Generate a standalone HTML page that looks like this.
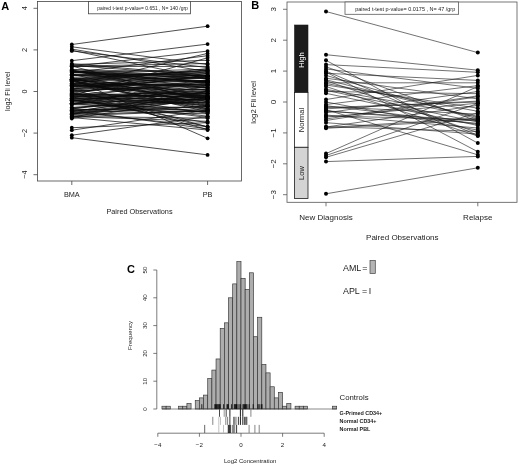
<!DOCTYPE html>
<html><head><meta charset="utf-8"><title>Figure</title>
<style>html,body{margin:0;padding:0;background:#fff;}body{width:520px;height:466px;overflow:hidden;font-family:"Liberation Sans",sans-serif;}</style></head>
<body>
<svg width="520" height="466" viewBox="0 0 520 466" style="display:block;font-family:'Liberation Sans',sans-serif;filter:blur(0.35px)">
<rect width="520" height="466" fill="#fff"/>
<g stroke="#0a0a0a" stroke-width="0.72" fill="none">
<path d="M71.8 44.5L207.6 26.2"/>
<path d="M71.8 46.8L207.6 64.5"/>
<path d="M71.8 49.1L207.6 71.7"/>
<path d="M71.8 50.9L207.6 67.6"/>
<path d="M71.8 50.3L207.6 79.0"/>
<path d="M71.8 60.7L207.6 44.1"/>
<path d="M71.8 137.7L207.6 154.9"/>
<path d="M71.8 135.2L207.6 116.5"/>
<path d="M71.8 130.2L207.6 110.2"/>
<path d="M71.8 127.7L207.6 122.7"/>
<path d="M71.8 79.0L207.6 138.3"/>
<path d="M71.8 66.5L207.6 51.1"/>
<path d="M71.8 85.3L207.6 53.4"/>
<path d="M71.8 72.8L207.6 55.7"/>
<path d="M71.8 95.7L207.6 57.8"/>
<path d="M71.8 64.5L207.6 60.3"/>
<path d="M71.8 117.5L207.6 130.0"/>
<path d="M71.8 110.2L207.6 128.9"/>
<path d="M71.8 89.4L207.6 126.9"/>
<path d="M71.8 118.5L207.6 97.7"/>
<path d="M71.8 96.6L207.6 90.5"/>
<path d="M71.8 96.0L207.6 100.8"/>
<path d="M71.8 109.9L207.6 109.2"/>
<path d="M71.8 69.5L207.6 72.7"/>
<path d="M71.8 71.0L207.6 76.0"/>
<path d="M71.8 83.7L207.6 85.7"/>
<path d="M71.8 74.6L207.6 75.2"/>
<path d="M71.8 81.6L207.6 108.5"/>
<path d="M71.8 109.1L207.6 111.9"/>
<path d="M71.8 85.5L207.6 89.9"/>
<path d="M71.8 81.2L207.6 94.7"/>
<path d="M71.8 85.4L207.6 84.2"/>
<path d="M71.8 104.6L207.6 80.6"/>
<path d="M71.8 80.5L207.6 70.4"/>
<path d="M71.8 103.8L207.6 111.7"/>
<path d="M71.8 98.3L207.6 99.7"/>
<path d="M71.8 79.0L207.6 81.6"/>
<path d="M71.8 100.3L207.6 112.1"/>
<path d="M71.8 101.8L207.6 85.0"/>
<path d="M71.8 107.5L207.6 101.6"/>
<path d="M71.8 83.1L207.6 106.9"/>
<path d="M71.8 90.5L207.6 76.1"/>
<path d="M71.8 97.9L207.6 99.4"/>
<path d="M71.8 107.6L207.6 98.5"/>
<path d="M71.8 92.7L207.6 113.3"/>
<path d="M71.8 75.1L207.6 73.5"/>
<path d="M71.8 72.8L207.6 75.8"/>
<path d="M71.8 89.1L207.6 108.7"/>
<path d="M71.8 79.3L207.6 93.0"/>
<path d="M71.8 100.4L207.6 116.2"/>
<path d="M71.8 110.6L207.6 113.8"/>
<path d="M71.8 66.0L207.6 102.0"/>
<path d="M71.8 86.8L207.6 71.7"/>
<path d="M71.8 80.1L207.6 110.1"/>
<path d="M71.8 84.4L207.6 98.1"/>
<path d="M71.8 113.6L207.6 96.5"/>
<path d="M71.8 69.7L207.6 76.3"/>
<path d="M71.8 86.6L207.6 84.6"/>
<path d="M71.8 79.3L207.6 78.3"/>
<path d="M71.8 80.7L207.6 106.2"/>
<path d="M71.8 66.2L207.6 63.5"/>
<path d="M71.8 81.0L207.6 111.7"/>
<path d="M71.8 104.0L207.6 91.5"/>
<path d="M71.8 95.1L207.6 83.0"/>
<path d="M71.8 117.4L207.6 91.0"/>
<path d="M71.8 80.6L207.6 87.9"/>
<path d="M71.8 85.1L207.6 80.7"/>
<path d="M71.8 89.1L207.6 77.1"/>
<path d="M71.8 104.6L207.6 108.1"/>
<path d="M71.8 70.9L207.6 78.8"/>
<path d="M71.8 108.9L207.6 93.6"/>
<path d="M71.8 100.3L207.6 117.5"/>
<path d="M71.8 94.2L207.6 97.4"/>
<path d="M71.8 97.4L207.6 79.6"/>
<path d="M71.8 111.8L207.6 91.5"/>
<path d="M71.8 116.6L207.6 121.3"/>
<path d="M71.8 79.0L207.6 70.3"/>
<path d="M71.8 74.5L207.6 77.2"/>
<path d="M71.8 88.7L207.6 89.6"/>
<path d="M71.8 80.1L207.6 87.9"/>
<path d="M71.8 86.0L207.6 82.4"/>
<path d="M71.8 91.5L207.6 83.7"/>
<path d="M71.8 80.3L207.6 81.6"/>
<path d="M71.8 99.9L207.6 104.3"/>
<path d="M71.8 91.8L207.6 81.8"/>
<path d="M71.8 98.2L207.6 93.3"/>
<path d="M71.8 113.7L207.6 106.0"/>
<path d="M71.8 83.6L207.6 85.0"/>
<path d="M71.8 100.0L207.6 91.1"/>
<path d="M71.8 85.9L207.6 96.4"/>
<path d="M71.8 84.5L207.6 95.8"/>
<path d="M71.8 93.5L207.6 97.9"/>
<path d="M71.8 92.7L207.6 129.6"/>
<path d="M71.8 101.1L207.6 87.3"/>
<path d="M71.8 114.6L207.6 110.6"/>
<path d="M71.8 72.7L207.6 69.3"/>
<path d="M71.8 98.5L207.6 102.9"/>
<path d="M71.8 79.2L207.6 70.9"/>
<path d="M71.8 70.0L207.6 97.2"/>
<path d="M71.8 78.0L207.6 103.4"/>
<path d="M71.8 88.0L207.6 75.7"/>
<path d="M71.8 94.5L207.6 93.2"/>
<path d="M71.8 75.7L207.6 80.7"/>
<path d="M71.8 93.2L207.6 75.0"/>
<path d="M71.8 70.8L207.6 82.9"/>
<path d="M71.8 114.2L207.6 97.6"/>
<path d="M71.8 96.8L207.6 95.5"/>
<path d="M71.8 77.6L207.6 81.0"/>
<path d="M71.8 78.9L207.6 104.4"/>
<path d="M71.8 79.3L207.6 97.5"/>
<path d="M71.8 111.8L207.6 126.7"/>
<path d="M71.8 66.5L207.6 66.4"/>
<path d="M71.8 110.0L207.6 106.5"/>
<path d="M71.8 114.0L207.6 99.5"/>
<path d="M71.8 109.1L207.6 85.8"/>
<path d="M71.8 72.0L207.6 82.2"/>
<path d="M71.8 63.7L207.6 75.4"/>
<path d="M71.8 103.4L207.6 96.8"/>
<path d="M71.8 83.4L207.6 68.6"/>
<path d="M71.8 111.7L207.6 93.0"/>
<path d="M71.8 95.1L207.6 105.7"/>
<path d="M71.8 71.4L207.6 78.0"/>
<path d="M71.8 89.0L207.6 73.5"/>
<path d="M71.8 96.7L207.6 126.8"/>
<path d="M71.8 99.2L207.6 122.8"/>
<path d="M71.8 75.3L207.6 78.2"/>
<path d="M71.8 103.6L207.6 102.2"/>
<path d="M71.8 75.0L207.6 81.0"/>
<path d="M71.8 65.3L207.6 76.0"/>
<path d="M71.8 70.9L207.6 87.9"/>
<path d="M71.8 74.1L207.6 105.6"/>
<path d="M71.8 112.9L207.6 94.8"/>
<path d="M71.8 115.8L207.6 110.8"/>
<path d="M71.8 95.3L207.6 96.6"/>
<path d="M71.8 103.2L207.6 98.7"/>
<path d="M71.8 90.6L207.6 86.1"/>
<path d="M71.8 71.7L207.6 82.3"/>
<path d="M71.8 116.4L207.6 118.2"/>
<path d="M71.8 70.3L207.6 100.0"/>
<path d="M71.8 103.3L207.6 88.9"/>
</g>
<g fill="#000">
<circle cx="71.8" cy="44.5" r="1.9"/><circle cx="207.6" cy="26.2" r="1.9"/>
<circle cx="71.8" cy="46.8" r="1.9"/><circle cx="207.6" cy="64.5" r="1.9"/>
<circle cx="71.8" cy="49.1" r="1.9"/><circle cx="207.6" cy="71.7" r="1.9"/>
<circle cx="71.8" cy="50.9" r="1.9"/><circle cx="207.6" cy="67.6" r="1.9"/>
<circle cx="71.8" cy="50.3" r="1.9"/><circle cx="207.6" cy="79.0" r="1.9"/>
<circle cx="71.8" cy="60.7" r="1.9"/><circle cx="207.6" cy="44.1" r="1.9"/>
<circle cx="71.8" cy="137.7" r="1.9"/><circle cx="207.6" cy="154.9" r="1.9"/>
<circle cx="71.8" cy="135.2" r="1.9"/><circle cx="207.6" cy="116.5" r="1.9"/>
<circle cx="71.8" cy="130.2" r="1.9"/><circle cx="207.6" cy="110.2" r="1.9"/>
<circle cx="71.8" cy="127.7" r="1.9"/><circle cx="207.6" cy="122.7" r="1.9"/>
<circle cx="71.8" cy="79.0" r="1.9"/><circle cx="207.6" cy="138.3" r="1.9"/>
<circle cx="71.8" cy="66.5" r="1.9"/><circle cx="207.6" cy="51.1" r="1.9"/>
<circle cx="71.8" cy="85.3" r="1.9"/><circle cx="207.6" cy="53.4" r="1.9"/>
<circle cx="71.8" cy="72.8" r="1.9"/><circle cx="207.6" cy="55.7" r="1.9"/>
<circle cx="71.8" cy="95.7" r="1.9"/><circle cx="207.6" cy="57.8" r="1.9"/>
<circle cx="71.8" cy="64.5" r="1.9"/><circle cx="207.6" cy="60.3" r="1.9"/>
<circle cx="71.8" cy="117.5" r="1.9"/><circle cx="207.6" cy="130.0" r="1.9"/>
<circle cx="71.8" cy="110.2" r="1.9"/><circle cx="207.6" cy="128.9" r="1.9"/>
<circle cx="71.8" cy="89.4" r="1.9"/><circle cx="207.6" cy="126.9" r="1.9"/>
<circle cx="71.8" cy="118.5" r="1.9"/><circle cx="207.6" cy="97.7" r="1.9"/>
<circle cx="71.8" cy="96.6" r="1.9"/><circle cx="207.6" cy="90.5" r="1.9"/>
<circle cx="71.8" cy="96.0" r="1.9"/><circle cx="207.6" cy="100.8" r="1.9"/>
<circle cx="71.8" cy="109.9" r="1.9"/><circle cx="207.6" cy="109.2" r="1.9"/>
<circle cx="71.8" cy="69.5" r="1.9"/><circle cx="207.6" cy="72.7" r="1.9"/>
<circle cx="71.8" cy="71.0" r="1.9"/><circle cx="207.6" cy="76.0" r="1.9"/>
<circle cx="71.8" cy="83.7" r="1.9"/><circle cx="207.6" cy="85.7" r="1.9"/>
<circle cx="71.8" cy="74.6" r="1.9"/><circle cx="207.6" cy="75.2" r="1.9"/>
<circle cx="71.8" cy="81.6" r="1.9"/><circle cx="207.6" cy="108.5" r="1.9"/>
<circle cx="71.8" cy="109.1" r="1.9"/><circle cx="207.6" cy="111.9" r="1.9"/>
<circle cx="71.8" cy="85.5" r="1.9"/><circle cx="207.6" cy="89.9" r="1.9"/>
<circle cx="71.8" cy="81.2" r="1.9"/><circle cx="207.6" cy="94.7" r="1.9"/>
<circle cx="71.8" cy="85.4" r="1.9"/><circle cx="207.6" cy="84.2" r="1.9"/>
<circle cx="71.8" cy="104.6" r="1.9"/><circle cx="207.6" cy="80.6" r="1.9"/>
<circle cx="71.8" cy="80.5" r="1.9"/><circle cx="207.6" cy="70.4" r="1.9"/>
<circle cx="71.8" cy="103.8" r="1.9"/><circle cx="207.6" cy="111.7" r="1.9"/>
<circle cx="71.8" cy="98.3" r="1.9"/><circle cx="207.6" cy="99.7" r="1.9"/>
<circle cx="71.8" cy="79.0" r="1.9"/><circle cx="207.6" cy="81.6" r="1.9"/>
<circle cx="71.8" cy="100.3" r="1.9"/><circle cx="207.6" cy="112.1" r="1.9"/>
<circle cx="71.8" cy="101.8" r="1.9"/><circle cx="207.6" cy="85.0" r="1.9"/>
<circle cx="71.8" cy="107.5" r="1.9"/><circle cx="207.6" cy="101.6" r="1.9"/>
<circle cx="71.8" cy="83.1" r="1.9"/><circle cx="207.6" cy="106.9" r="1.9"/>
<circle cx="71.8" cy="90.5" r="1.9"/><circle cx="207.6" cy="76.1" r="1.9"/>
<circle cx="71.8" cy="97.9" r="1.9"/><circle cx="207.6" cy="99.4" r="1.9"/>
<circle cx="71.8" cy="107.6" r="1.9"/><circle cx="207.6" cy="98.5" r="1.9"/>
<circle cx="71.8" cy="92.7" r="1.9"/><circle cx="207.6" cy="113.3" r="1.9"/>
<circle cx="71.8" cy="75.1" r="1.9"/><circle cx="207.6" cy="73.5" r="1.9"/>
<circle cx="71.8" cy="72.8" r="1.9"/><circle cx="207.6" cy="75.8" r="1.9"/>
<circle cx="71.8" cy="89.1" r="1.9"/><circle cx="207.6" cy="108.7" r="1.9"/>
<circle cx="71.8" cy="79.3" r="1.9"/><circle cx="207.6" cy="93.0" r="1.9"/>
<circle cx="71.8" cy="100.4" r="1.9"/><circle cx="207.6" cy="116.2" r="1.9"/>
<circle cx="71.8" cy="110.6" r="1.9"/><circle cx="207.6" cy="113.8" r="1.9"/>
<circle cx="71.8" cy="66.0" r="1.9"/><circle cx="207.6" cy="102.0" r="1.9"/>
<circle cx="71.8" cy="86.8" r="1.9"/><circle cx="207.6" cy="71.7" r="1.9"/>
<circle cx="71.8" cy="80.1" r="1.9"/><circle cx="207.6" cy="110.1" r="1.9"/>
<circle cx="71.8" cy="84.4" r="1.9"/><circle cx="207.6" cy="98.1" r="1.9"/>
<circle cx="71.8" cy="113.6" r="1.9"/><circle cx="207.6" cy="96.5" r="1.9"/>
<circle cx="71.8" cy="69.7" r="1.9"/><circle cx="207.6" cy="76.3" r="1.9"/>
<circle cx="71.8" cy="86.6" r="1.9"/><circle cx="207.6" cy="84.6" r="1.9"/>
<circle cx="71.8" cy="79.3" r="1.9"/><circle cx="207.6" cy="78.3" r="1.9"/>
<circle cx="71.8" cy="80.7" r="1.9"/><circle cx="207.6" cy="106.2" r="1.9"/>
<circle cx="71.8" cy="66.2" r="1.9"/><circle cx="207.6" cy="63.5" r="1.9"/>
<circle cx="71.8" cy="81.0" r="1.9"/><circle cx="207.6" cy="111.7" r="1.9"/>
<circle cx="71.8" cy="104.0" r="1.9"/><circle cx="207.6" cy="91.5" r="1.9"/>
<circle cx="71.8" cy="95.1" r="1.9"/><circle cx="207.6" cy="83.0" r="1.9"/>
<circle cx="71.8" cy="117.4" r="1.9"/><circle cx="207.6" cy="91.0" r="1.9"/>
<circle cx="71.8" cy="80.6" r="1.9"/><circle cx="207.6" cy="87.9" r="1.9"/>
<circle cx="71.8" cy="85.1" r="1.9"/><circle cx="207.6" cy="80.7" r="1.9"/>
<circle cx="71.8" cy="89.1" r="1.9"/><circle cx="207.6" cy="77.1" r="1.9"/>
<circle cx="71.8" cy="104.6" r="1.9"/><circle cx="207.6" cy="108.1" r="1.9"/>
<circle cx="71.8" cy="70.9" r="1.9"/><circle cx="207.6" cy="78.8" r="1.9"/>
<circle cx="71.8" cy="108.9" r="1.9"/><circle cx="207.6" cy="93.6" r="1.9"/>
<circle cx="71.8" cy="100.3" r="1.9"/><circle cx="207.6" cy="117.5" r="1.9"/>
<circle cx="71.8" cy="94.2" r="1.9"/><circle cx="207.6" cy="97.4" r="1.9"/>
<circle cx="71.8" cy="97.4" r="1.9"/><circle cx="207.6" cy="79.6" r="1.9"/>
<circle cx="71.8" cy="111.8" r="1.9"/><circle cx="207.6" cy="91.5" r="1.9"/>
<circle cx="71.8" cy="116.6" r="1.9"/><circle cx="207.6" cy="121.3" r="1.9"/>
<circle cx="71.8" cy="79.0" r="1.9"/><circle cx="207.6" cy="70.3" r="1.9"/>
<circle cx="71.8" cy="74.5" r="1.9"/><circle cx="207.6" cy="77.2" r="1.9"/>
<circle cx="71.8" cy="88.7" r="1.9"/><circle cx="207.6" cy="89.6" r="1.9"/>
<circle cx="71.8" cy="80.1" r="1.9"/><circle cx="207.6" cy="87.9" r="1.9"/>
<circle cx="71.8" cy="86.0" r="1.9"/><circle cx="207.6" cy="82.4" r="1.9"/>
<circle cx="71.8" cy="91.5" r="1.9"/><circle cx="207.6" cy="83.7" r="1.9"/>
<circle cx="71.8" cy="80.3" r="1.9"/><circle cx="207.6" cy="81.6" r="1.9"/>
<circle cx="71.8" cy="99.9" r="1.9"/><circle cx="207.6" cy="104.3" r="1.9"/>
<circle cx="71.8" cy="91.8" r="1.9"/><circle cx="207.6" cy="81.8" r="1.9"/>
<circle cx="71.8" cy="98.2" r="1.9"/><circle cx="207.6" cy="93.3" r="1.9"/>
<circle cx="71.8" cy="113.7" r="1.9"/><circle cx="207.6" cy="106.0" r="1.9"/>
<circle cx="71.8" cy="83.6" r="1.9"/><circle cx="207.6" cy="85.0" r="1.9"/>
<circle cx="71.8" cy="100.0" r="1.9"/><circle cx="207.6" cy="91.1" r="1.9"/>
<circle cx="71.8" cy="85.9" r="1.9"/><circle cx="207.6" cy="96.4" r="1.9"/>
<circle cx="71.8" cy="84.5" r="1.9"/><circle cx="207.6" cy="95.8" r="1.9"/>
<circle cx="71.8" cy="93.5" r="1.9"/><circle cx="207.6" cy="97.9" r="1.9"/>
<circle cx="71.8" cy="92.7" r="1.9"/><circle cx="207.6" cy="129.6" r="1.9"/>
<circle cx="71.8" cy="101.1" r="1.9"/><circle cx="207.6" cy="87.3" r="1.9"/>
<circle cx="71.8" cy="114.6" r="1.9"/><circle cx="207.6" cy="110.6" r="1.9"/>
<circle cx="71.8" cy="72.7" r="1.9"/><circle cx="207.6" cy="69.3" r="1.9"/>
<circle cx="71.8" cy="98.5" r="1.9"/><circle cx="207.6" cy="102.9" r="1.9"/>
<circle cx="71.8" cy="79.2" r="1.9"/><circle cx="207.6" cy="70.9" r="1.9"/>
<circle cx="71.8" cy="70.0" r="1.9"/><circle cx="207.6" cy="97.2" r="1.9"/>
<circle cx="71.8" cy="78.0" r="1.9"/><circle cx="207.6" cy="103.4" r="1.9"/>
<circle cx="71.8" cy="88.0" r="1.9"/><circle cx="207.6" cy="75.7" r="1.9"/>
<circle cx="71.8" cy="94.5" r="1.9"/><circle cx="207.6" cy="93.2" r="1.9"/>
<circle cx="71.8" cy="75.7" r="1.9"/><circle cx="207.6" cy="80.7" r="1.9"/>
<circle cx="71.8" cy="93.2" r="1.9"/><circle cx="207.6" cy="75.0" r="1.9"/>
<circle cx="71.8" cy="70.8" r="1.9"/><circle cx="207.6" cy="82.9" r="1.9"/>
<circle cx="71.8" cy="114.2" r="1.9"/><circle cx="207.6" cy="97.6" r="1.9"/>
<circle cx="71.8" cy="96.8" r="1.9"/><circle cx="207.6" cy="95.5" r="1.9"/>
<circle cx="71.8" cy="77.6" r="1.9"/><circle cx="207.6" cy="81.0" r="1.9"/>
<circle cx="71.8" cy="78.9" r="1.9"/><circle cx="207.6" cy="104.4" r="1.9"/>
<circle cx="71.8" cy="79.3" r="1.9"/><circle cx="207.6" cy="97.5" r="1.9"/>
<circle cx="71.8" cy="111.8" r="1.9"/><circle cx="207.6" cy="126.7" r="1.9"/>
<circle cx="71.8" cy="66.5" r="1.9"/><circle cx="207.6" cy="66.4" r="1.9"/>
<circle cx="71.8" cy="110.0" r="1.9"/><circle cx="207.6" cy="106.5" r="1.9"/>
<circle cx="71.8" cy="114.0" r="1.9"/><circle cx="207.6" cy="99.5" r="1.9"/>
<circle cx="71.8" cy="109.1" r="1.9"/><circle cx="207.6" cy="85.8" r="1.9"/>
<circle cx="71.8" cy="72.0" r="1.9"/><circle cx="207.6" cy="82.2" r="1.9"/>
<circle cx="71.8" cy="63.7" r="1.9"/><circle cx="207.6" cy="75.4" r="1.9"/>
<circle cx="71.8" cy="103.4" r="1.9"/><circle cx="207.6" cy="96.8" r="1.9"/>
<circle cx="71.8" cy="83.4" r="1.9"/><circle cx="207.6" cy="68.6" r="1.9"/>
<circle cx="71.8" cy="111.7" r="1.9"/><circle cx="207.6" cy="93.0" r="1.9"/>
<circle cx="71.8" cy="95.1" r="1.9"/><circle cx="207.6" cy="105.7" r="1.9"/>
<circle cx="71.8" cy="71.4" r="1.9"/><circle cx="207.6" cy="78.0" r="1.9"/>
<circle cx="71.8" cy="89.0" r="1.9"/><circle cx="207.6" cy="73.5" r="1.9"/>
<circle cx="71.8" cy="96.7" r="1.9"/><circle cx="207.6" cy="126.8" r="1.9"/>
<circle cx="71.8" cy="99.2" r="1.9"/><circle cx="207.6" cy="122.8" r="1.9"/>
<circle cx="71.8" cy="75.3" r="1.9"/><circle cx="207.6" cy="78.2" r="1.9"/>
<circle cx="71.8" cy="103.6" r="1.9"/><circle cx="207.6" cy="102.2" r="1.9"/>
<circle cx="71.8" cy="75.0" r="1.9"/><circle cx="207.6" cy="81.0" r="1.9"/>
<circle cx="71.8" cy="65.3" r="1.9"/><circle cx="207.6" cy="76.0" r="1.9"/>
<circle cx="71.8" cy="70.9" r="1.9"/><circle cx="207.6" cy="87.9" r="1.9"/>
<circle cx="71.8" cy="74.1" r="1.9"/><circle cx="207.6" cy="105.6" r="1.9"/>
<circle cx="71.8" cy="112.9" r="1.9"/><circle cx="207.6" cy="94.8" r="1.9"/>
<circle cx="71.8" cy="115.8" r="1.9"/><circle cx="207.6" cy="110.8" r="1.9"/>
<circle cx="71.8" cy="95.3" r="1.9"/><circle cx="207.6" cy="96.6" r="1.9"/>
<circle cx="71.8" cy="103.2" r="1.9"/><circle cx="207.6" cy="98.7" r="1.9"/>
<circle cx="71.8" cy="90.6" r="1.9"/><circle cx="207.6" cy="86.1" r="1.9"/>
<circle cx="71.8" cy="71.7" r="1.9"/><circle cx="207.6" cy="82.3" r="1.9"/>
<circle cx="71.8" cy="116.4" r="1.9"/><circle cx="207.6" cy="118.2" r="1.9"/>
<circle cx="71.8" cy="70.3" r="1.9"/><circle cx="207.6" cy="100.0" r="1.9"/>
<circle cx="71.8" cy="103.3" r="1.9"/><circle cx="207.6" cy="88.9" r="1.9"/>
</g>
<rect x="37.5" y="1.5" width="204.0" height="179.5" fill="none" stroke="#444" stroke-width="0.8"/>
<rect x="88.5" y="1.5" width="102" height="12.3" fill="#fff" stroke="#444" stroke-width="0.8"/>
<text x="142.6" y="9.8" font-size="4.9" text-anchor="middle" fill="#222" textLength="90.5" lengthAdjust="spacingAndGlyphs">paired t-test p-value= 0.651 , N= 140 /grp</text>
<g stroke="#444" stroke-width="0.8">
<path d="M33.5 8.3H37.5"/>
<path d="M33.5 49.9H37.5"/>
<path d="M33.5 91.5H37.5"/>
<path d="M33.5 133.1H37.5"/>
<path d="M33.5 174.7H37.5"/>
<path d="M71.8 181.0V185.0"/>
<path d="M207.6 181.0V185.0"/>
</g>
<g font-size="7.3" fill="#222" text-anchor="middle">
<text transform="translate(26.6 8.3) rotate(-90)">4</text>
<text transform="translate(26.6 49.9) rotate(-90)">2</text>
<text transform="translate(26.6 91.5) rotate(-90)">0</text>
<text transform="translate(26.6 133.1) rotate(-90)">−2</text>
<text transform="translate(26.6 174.7) rotate(-90)">−4</text>
<text transform="translate(10.3 91.3) rotate(-90)" font-size="7.1">log2 Fli level</text>
<text x="71.8" y="197.3">BMA</text>
<text x="207.6" y="197.3">PB</text>
<text x="139.5" y="214">Paired Observations</text>
</g>
<text x="1.2" y="9.7" font-size="11" font-weight="bold" fill="#000">A</text>
<g stroke="#1a1a1a" stroke-width="0.62" fill="none">
<path d="M326.0 54.7L477.8 70.2"/>
<path d="M326.0 60.3L477.8 143.1"/>
<path d="M326.0 64.6L477.8 72.3"/>
<path d="M326.0 66.8L477.8 121.2"/>
<path d="M326.0 68.9L477.8 88.4"/>
<path d="M326.0 71.1L477.8 135.4"/>
<path d="M326.0 73.3L477.8 80.4"/>
<path d="M326.0 75.4L477.8 119.0"/>
<path d="M326.0 78.2L477.8 98.9"/>
<path d="M326.0 80.7L477.8 132.6"/>
<path d="M326.0 82.8L477.8 82.8"/>
<path d="M326.0 85.0L477.8 108.2"/>
<path d="M326.0 89.3L477.8 116.2"/>
<path d="M326.0 91.5L477.8 93.7"/>
<path d="M326.0 93.3L477.8 125.5"/>
<path d="M326.0 99.5L477.8 75.4"/>
<path d="M326.0 102.0L477.8 130.1"/>
<path d="M326.0 104.5L477.8 85.6"/>
<path d="M326.0 106.6L477.8 114.1"/>
<path d="M326.0 108.8L477.8 101.1"/>
<path d="M326.0 110.7L477.8 123.3"/>
<path d="M326.0 112.8L477.8 91.5"/>
<path d="M326.0 115.0L477.8 128.0"/>
<path d="M326.0 117.1L477.8 103.2"/>
<path d="M326.0 120.5L477.8 96.7"/>
<path d="M326.0 122.7L477.8 134.1"/>
<path d="M326.0 127.0L477.8 105.4"/>
<path d="M326.0 128.3L477.8 119.9"/>
<path d="M326.0 72.0L477.8 151.7"/>
<path d="M326.0 79.8L477.8 117.5"/>
<path d="M326.0 86.5L477.8 136.0"/>
<path d="M326.0 90.3L477.8 122.1"/>
<path d="M326.0 107.6L477.8 102.0"/>
<path d="M326.0 111.3L477.8 120.5"/>
<path d="M326.0 109.7L477.8 154.8"/>
<path d="M326.0 115.9L477.8 119.6"/>
<path d="M326.0 119.0L477.8 95.8"/>
<path d="M326.0 105.7L477.8 124.2"/>
<path d="M326.0 83.5L477.8 111.3"/>
<path d="M326.0 127.6L477.8 118.1"/>
<path d="M326.0 11.5L477.8 52.6"/>
<path d="M326.0 193.8L477.8 167.8"/>
<path d="M326.0 161.6L477.8 156.4"/>
<path d="M326.0 153.6L477.8 86.5"/>
<path d="M326.0 155.5L477.8 103.5"/>
<path d="M326.0 157.3L477.8 112.8"/>
<path d="M326.0 126.7L477.8 131.4"/>
</g>
<g fill="#000">
<circle cx="326.0" cy="54.7" r="2"/><circle cx="477.8" cy="70.2" r="2"/>
<circle cx="326.0" cy="60.3" r="2"/><circle cx="477.8" cy="143.1" r="2"/>
<circle cx="326.0" cy="64.6" r="2"/><circle cx="477.8" cy="72.3" r="2"/>
<circle cx="326.0" cy="66.8" r="2"/><circle cx="477.8" cy="121.2" r="2"/>
<circle cx="326.0" cy="68.9" r="2"/><circle cx="477.8" cy="88.4" r="2"/>
<circle cx="326.0" cy="71.1" r="2"/><circle cx="477.8" cy="135.4" r="2"/>
<circle cx="326.0" cy="73.3" r="2"/><circle cx="477.8" cy="80.4" r="2"/>
<circle cx="326.0" cy="75.4" r="2"/><circle cx="477.8" cy="119.0" r="2"/>
<circle cx="326.0" cy="78.2" r="2"/><circle cx="477.8" cy="98.9" r="2"/>
<circle cx="326.0" cy="80.7" r="2"/><circle cx="477.8" cy="132.6" r="2"/>
<circle cx="326.0" cy="82.8" r="2"/><circle cx="477.8" cy="82.8" r="2"/>
<circle cx="326.0" cy="85.0" r="2"/><circle cx="477.8" cy="108.2" r="2"/>
<circle cx="326.0" cy="89.3" r="2"/><circle cx="477.8" cy="116.2" r="2"/>
<circle cx="326.0" cy="91.5" r="2"/><circle cx="477.8" cy="93.7" r="2"/>
<circle cx="326.0" cy="93.3" r="2"/><circle cx="477.8" cy="125.5" r="2"/>
<circle cx="326.0" cy="99.5" r="2"/><circle cx="477.8" cy="75.4" r="2"/>
<circle cx="326.0" cy="102.0" r="2"/><circle cx="477.8" cy="130.1" r="2"/>
<circle cx="326.0" cy="104.5" r="2"/><circle cx="477.8" cy="85.6" r="2"/>
<circle cx="326.0" cy="106.6" r="2"/><circle cx="477.8" cy="114.1" r="2"/>
<circle cx="326.0" cy="108.8" r="2"/><circle cx="477.8" cy="101.1" r="2"/>
<circle cx="326.0" cy="110.7" r="2"/><circle cx="477.8" cy="123.3" r="2"/>
<circle cx="326.0" cy="112.8" r="2"/><circle cx="477.8" cy="91.5" r="2"/>
<circle cx="326.0" cy="115.0" r="2"/><circle cx="477.8" cy="128.0" r="2"/>
<circle cx="326.0" cy="117.1" r="2"/><circle cx="477.8" cy="103.2" r="2"/>
<circle cx="326.0" cy="120.5" r="2"/><circle cx="477.8" cy="96.7" r="2"/>
<circle cx="326.0" cy="122.7" r="2"/><circle cx="477.8" cy="134.1" r="2"/>
<circle cx="326.0" cy="127.0" r="2"/><circle cx="477.8" cy="105.4" r="2"/>
<circle cx="326.0" cy="128.3" r="2"/><circle cx="477.8" cy="119.9" r="2"/>
<circle cx="326.0" cy="72.0" r="2"/><circle cx="477.8" cy="151.7" r="2"/>
<circle cx="326.0" cy="79.8" r="2"/><circle cx="477.8" cy="117.5" r="2"/>
<circle cx="326.0" cy="86.5" r="2"/><circle cx="477.8" cy="136.0" r="2"/>
<circle cx="326.0" cy="90.3" r="2"/><circle cx="477.8" cy="122.1" r="2"/>
<circle cx="326.0" cy="107.6" r="2"/><circle cx="477.8" cy="102.0" r="2"/>
<circle cx="326.0" cy="111.3" r="2"/><circle cx="477.8" cy="120.5" r="2"/>
<circle cx="326.0" cy="109.7" r="2"/><circle cx="477.8" cy="154.8" r="2"/>
<circle cx="326.0" cy="115.9" r="2"/><circle cx="477.8" cy="119.6" r="2"/>
<circle cx="326.0" cy="119.0" r="2"/><circle cx="477.8" cy="95.8" r="2"/>
<circle cx="326.0" cy="105.7" r="2"/><circle cx="477.8" cy="124.2" r="2"/>
<circle cx="326.0" cy="83.5" r="2"/><circle cx="477.8" cy="111.3" r="2"/>
<circle cx="326.0" cy="127.6" r="2"/><circle cx="477.8" cy="118.1" r="2"/>
<circle cx="326.0" cy="11.5" r="2"/><circle cx="477.8" cy="52.6" r="2"/>
<circle cx="326.0" cy="193.8" r="2"/><circle cx="477.8" cy="167.8" r="2"/>
<circle cx="326.0" cy="161.6" r="2"/><circle cx="477.8" cy="156.4" r="2"/>
<circle cx="326.0" cy="153.6" r="2"/><circle cx="477.8" cy="86.5" r="2"/>
<circle cx="326.0" cy="155.5" r="2"/><circle cx="477.8" cy="103.5" r="2"/>
<circle cx="326.0" cy="157.3" r="2"/><circle cx="477.8" cy="112.8" r="2"/>
<circle cx="326.0" cy="126.7" r="2"/><circle cx="477.8" cy="131.4" r="2"/>
</g>
<rect x="287.0" y="2.0" width="230.0" height="200.3" fill="none" stroke="#555" stroke-width="0.8"/>
<rect x="345" y="2" width="113.6" height="12.3" fill="#fff" stroke="#5a5a5a" stroke-width="0.8"/>
<text x="405.2" y="10.6" font-size="5.3" text-anchor="middle" fill="#222" textLength="100" lengthAdjust="spacingAndGlyphs">paired t-test p-value= 0.0175 , N= 47 /grp</text>
<g stroke="#555" stroke-width="0.8">
<path d="M283.0 9.3H287.0"/>
<path d="M283.0 40.2H287.0"/>
<path d="M283.0 71.1H287.0"/>
<path d="M283.0 102.0H287.0"/>
<path d="M283.0 132.9H287.0"/>
<path d="M283.0 163.8H287.0"/>
<path d="M283.0 194.7H287.0"/>
<path d="M326.0 202.3V206.3"/>
<path d="M477.8 202.3V206.3"/>
</g>
<g font-size="8" fill="#222" text-anchor="middle">
<text transform="translate(276 9.3) rotate(-90)">3</text>
<text transform="translate(276 40.2) rotate(-90)">2</text>
<text transform="translate(276 71.1) rotate(-90)">1</text>
<text transform="translate(276 102.0) rotate(-90)">0</text>
<text transform="translate(276 132.9) rotate(-90)">−1</text>
<text transform="translate(276 163.8) rotate(-90)">−2</text>
<text transform="translate(276 194.7) rotate(-90)">−3</text>
<text transform="translate(256 102.5) rotate(-90)" font-size="7.7">log2 Fli level</text>
<text x="326.0" y="220">New Diagnosis</text>
<text x="477.8" y="220">Relapse</text>
<text x="402.3" y="239.8" font-size="8">Paired Observations</text>
</g>
<text x="251.2" y="9.4" font-size="11" font-weight="bold" fill="#000">B</text>
<rect x="294.5" y="25" width="13.5" height="67.5" fill="#1c1c1c" stroke="#1c1c1c" stroke-width="0.6"/>
<rect x="294.5" y="92.5" width="13.5" height="54.8" fill="#fff" stroke="#1c1c1c" stroke-width="0.8"/>
<rect x="294.5" y="147.3" width="13.5" height="51.2" fill="#d4d4d4" stroke="#1c1c1c" stroke-width="0.8"/>
<g font-size="7.6" text-anchor="middle">
<text transform="translate(304 60) rotate(-90)" fill="#fff">High</text>
<text transform="translate(304 120) rotate(-90)" fill="#222">Normal</text>
<text transform="translate(304 173) rotate(-90)" fill="#222">Low</text>
</g>
<g fill="#adadad" stroke="#333" stroke-width="0.65">
<rect x="161.96" y="406.22" width="4.16" height="2.78"/>
<rect x="166.12" y="406.22" width="4.16" height="2.78"/>
<rect x="178.60" y="406.22" width="4.16" height="2.78"/>
<rect x="182.76" y="406.22" width="4.16" height="2.78"/>
<rect x="186.92" y="403.44" width="4.16" height="5.56"/>
<rect x="195.24" y="400.66" width="4.16" height="8.34"/>
<rect x="199.40" y="397.88" width="4.16" height="11.12"/>
<rect x="203.56" y="395.10" width="4.16" height="13.90"/>
<rect x="207.72" y="378.42" width="4.16" height="30.58"/>
<rect x="211.88" y="370.08" width="4.16" height="38.92"/>
<rect x="216.04" y="358.96" width="4.16" height="50.04"/>
<rect x="220.20" y="328.38" width="4.16" height="80.62"/>
<rect x="224.36" y="322.82" width="4.16" height="86.18"/>
<rect x="228.52" y="297.80" width="4.16" height="111.20"/>
<rect x="232.68" y="283.90" width="4.16" height="125.10"/>
<rect x="236.84" y="261.66" width="4.16" height="147.34"/>
<rect x="241.00" y="278.34" width="4.16" height="130.66"/>
<rect x="245.16" y="289.46" width="4.16" height="119.54"/>
<rect x="249.32" y="272.78" width="4.16" height="136.22"/>
<rect x="253.48" y="336.72" width="4.16" height="72.28"/>
<rect x="257.64" y="317.26" width="4.16" height="91.74"/>
<rect x="261.80" y="364.52" width="4.16" height="44.48"/>
<rect x="265.96" y="372.86" width="4.16" height="36.14"/>
<rect x="270.12" y="386.76" width="4.16" height="22.24"/>
<rect x="274.28" y="397.88" width="4.16" height="11.12"/>
<rect x="278.44" y="392.32" width="4.16" height="16.68"/>
<rect x="282.60" y="406.22" width="4.16" height="2.78"/>
<rect x="286.76" y="403.44" width="4.16" height="5.56"/>
<rect x="295.08" y="406.22" width="4.16" height="2.78"/>
<rect x="299.24" y="406.22" width="4.16" height="2.78"/>
<rect x="303.40" y="406.22" width="4.16" height="2.78"/>
<rect x="332.52" y="406.22" width="4.16" height="2.78"/>
</g>
<path d="M162.0 409.0H336.7" stroke="#3a3a3a" stroke-width="0.6"/>
<g stroke="#444" stroke-width="0.7" fill="none">
<path d="M156.8 270.0V409.0"/>
<path d="M153.3 409.0H156.8"/>
<path d="M153.3 381.2H156.8"/>
<path d="M153.3 353.4H156.8"/>
<path d="M153.3 325.6H156.8"/>
<path d="M153.3 297.8H156.8"/>
<path d="M153.3 270.0H156.8"/>
<path d="M157.8 433.2H324.2"/>
<path d="M157.8 433.2V436.8"/>
<path d="M199.4 433.2V436.8"/>
<path d="M241.0 433.2V436.8"/>
<path d="M282.6 433.2V436.8"/>
<path d="M324.2 433.2V436.8"/>
</g>
<g font-size="6.2" fill="#222" text-anchor="middle">
<text transform="translate(147.4 409.0) rotate(-90)">0</text>
<text transform="translate(147.4 381.2) rotate(-90)">10</text>
<text transform="translate(147.4 353.4) rotate(-90)">20</text>
<text transform="translate(147.4 325.6) rotate(-90)">30</text>
<text transform="translate(147.4 297.8) rotate(-90)">40</text>
<text transform="translate(147.4 270.0) rotate(-90)">50</text>
<text x="157.8" y="447.3">−4</text>
<text x="199.4" y="447.3">−2</text>
<text x="241.0" y="447.3">0</text>
<text x="282.6" y="447.3">2</text>
<text x="324.2" y="447.3">4</text>
<text transform="translate(132 335.5) rotate(-90)">Frequency</text>
<text x="250.2" y="463" font-size="6">Log2 Concentration</text>
</g>
<text x="127" y="273.2" font-size="11" font-weight="bold" fill="#000">C</text>
<g stroke="#000" stroke-width="0.8">
<path d="M201.8 404.2V408.8"/>
<path d="M214.8 404.2V408.8"/>
<path d="M215.6 404.2V408.8"/>
<path d="M216.4 404.2V408.8"/>
<path d="M217.2 404.2V408.8"/>
<path d="M218.0 404.2V408.8"/>
<path d="M218.8 404.2V408.8"/>
<path d="M219.6 404.2V408.8"/>
<path d="M220.2 404.2V408.8"/>
<path d="M223.6 404.2V408.8"/>
<path d="M227.0 404.2V408.8"/>
<path d="M227.7 404.2V408.8"/>
<path d="M228.3 404.2V408.8"/>
<path d="M231.6 404.2V408.8"/>
<path d="M234.3 404.2V408.8"/>
<path d="M235.0 404.2V408.8"/>
<path d="M235.7 404.2V408.8"/>
<path d="M236.4 404.2V408.8"/>
<path d="M237.0 404.2V408.8"/>
<path d="M239.0 404.2V408.8"/>
<path d="M240.4 404.2V408.8"/>
<path d="M243.0 404.2V408.8"/>
<path d="M243.8 404.2V408.8"/>
<path d="M244.6 404.2V408.8"/>
<path d="M245.4 404.2V408.8"/>
<path d="M246.2 404.2V408.8"/>
<path d="M247.0 404.2V408.8"/>
<path d="M249.1 404.2V408.8"/>
<path d="M253.2 404.2V408.8"/>
<path d="M258.0 404.2V408.8"/>
<path d="M259.2 404.2V408.8"/>
<path d="M261.2 404.2V408.8"/>
<path d="M262.0 404.2V408.8"/>
</g>
<path d="M219.5 409.2V416.8" stroke="#333" stroke-width="0.9"/>
<path d="M224.2 409.2V416.8" stroke="#888" stroke-width="0.9"/>
<path d="M226.2 409.2V416.8" stroke="#333" stroke-width="0.9"/>
<path d="M229.9 409.2V416.8" stroke="#000" stroke-width="0.9"/>
<path d="M240.4 409.2V416.8" stroke="#000" stroke-width="0.9"/>
<path d="M242.8 409.2V416.8" stroke="#000" stroke-width="0.9"/>
<path d="M250.9 409.2V416.8" stroke="#777" stroke-width="0.9"/>
<path d="M212.8 416.8V424.9" stroke="#777" stroke-width="0.9"/>
<path d="M218.8 416.8V424.9" stroke="#bbb" stroke-width="0.9"/>
<path d="M220.5 416.8V424.9" stroke="#bbb" stroke-width="0.9"/>
<path d="M225.8 416.8V424.9" stroke="#777" stroke-width="0.9"/>
<path d="M227.6 416.8V424.9" stroke="#777" stroke-width="0.9"/>
<path d="M229.9 416.8V424.9" stroke="#222" stroke-width="0.9"/>
<path d="M233.6 416.8V424.9" stroke="#666" stroke-width="0.9"/>
<path d="M234.7 416.8V424.9" stroke="#666" stroke-width="0.9"/>
<path d="M236.0 416.8V424.9" stroke="#666" stroke-width="0.9"/>
<path d="M238.4 416.8V424.9" stroke="#222" stroke-width="0.9"/>
<path d="M240.4 416.8V424.9" stroke="#000" stroke-width="0.9"/>
<path d="M242.8 416.8V424.9" stroke="#111" stroke-width="0.9"/>
<path d="M244.4 416.8V424.9" stroke="#333" stroke-width="0.9"/>
<path d="M245.8 416.8V424.9" stroke="#333" stroke-width="0.9"/>
<path d="M246.8 416.8V424.9" stroke="#333" stroke-width="0.9"/>
<path d="M204.7 424.9V433" stroke="#555" stroke-width="0.9"/>
<path d="M218.8 424.9V433" stroke="#bbb" stroke-width="0.9"/>
<path d="M223.5 424.9V433" stroke="#bbb" stroke-width="0.9"/>
<path d="M228.3 424.9V433" stroke="#000" stroke-width="0.9"/>
<path d="M229.3 424.9V433" stroke="#000" stroke-width="0.9"/>
<path d="M230.3 424.9V433" stroke="#000" stroke-width="0.9"/>
<path d="M232.3 424.9V433" stroke="#666" stroke-width="0.9"/>
<path d="M233.4 424.9V433" stroke="#666" stroke-width="0.9"/>
<path d="M234.7 424.9V433" stroke="#666" stroke-width="0.9"/>
<path d="M236.6 424.9V433" stroke="#222" stroke-width="0.9"/>
<path d="M249.1 424.9V433" stroke="#777" stroke-width="0.9"/>
<path d="M254.9 424.9V433" stroke="#777" stroke-width="0.9"/>
<path d="M259.2 424.9V433" stroke="#777" stroke-width="0.9"/>
<text x="343" y="270.9" font-size="8.9" fill="#222">AML</text><text x="362.3" y="270.9" font-size="8.9" fill="#222">=</text>
<rect x="370" y="260.5" width="5.3" height="13" fill="#b4b4b4" stroke="#444" stroke-width="0.7"/>
<text x="343" y="294" font-size="8.9" fill="#222">APL</text><text x="362" y="294" font-size="8.9" fill="#222">=</text><text x="368.8" y="294" font-size="8.9" fill="#222">I</text>
<text x="339.5" y="400.4" font-size="7.8" fill="#222">Controls</text>
<g font-size="5.4" fill="#222" font-weight="bold">
<text x="339.5" y="414.8">G-Primed CD34+</text>
<text x="339.5" y="423.2">Normal CD34+</text>
<text x="339.5" y="431">Normal PBL</text>
</g>
</svg>
</body></html>
